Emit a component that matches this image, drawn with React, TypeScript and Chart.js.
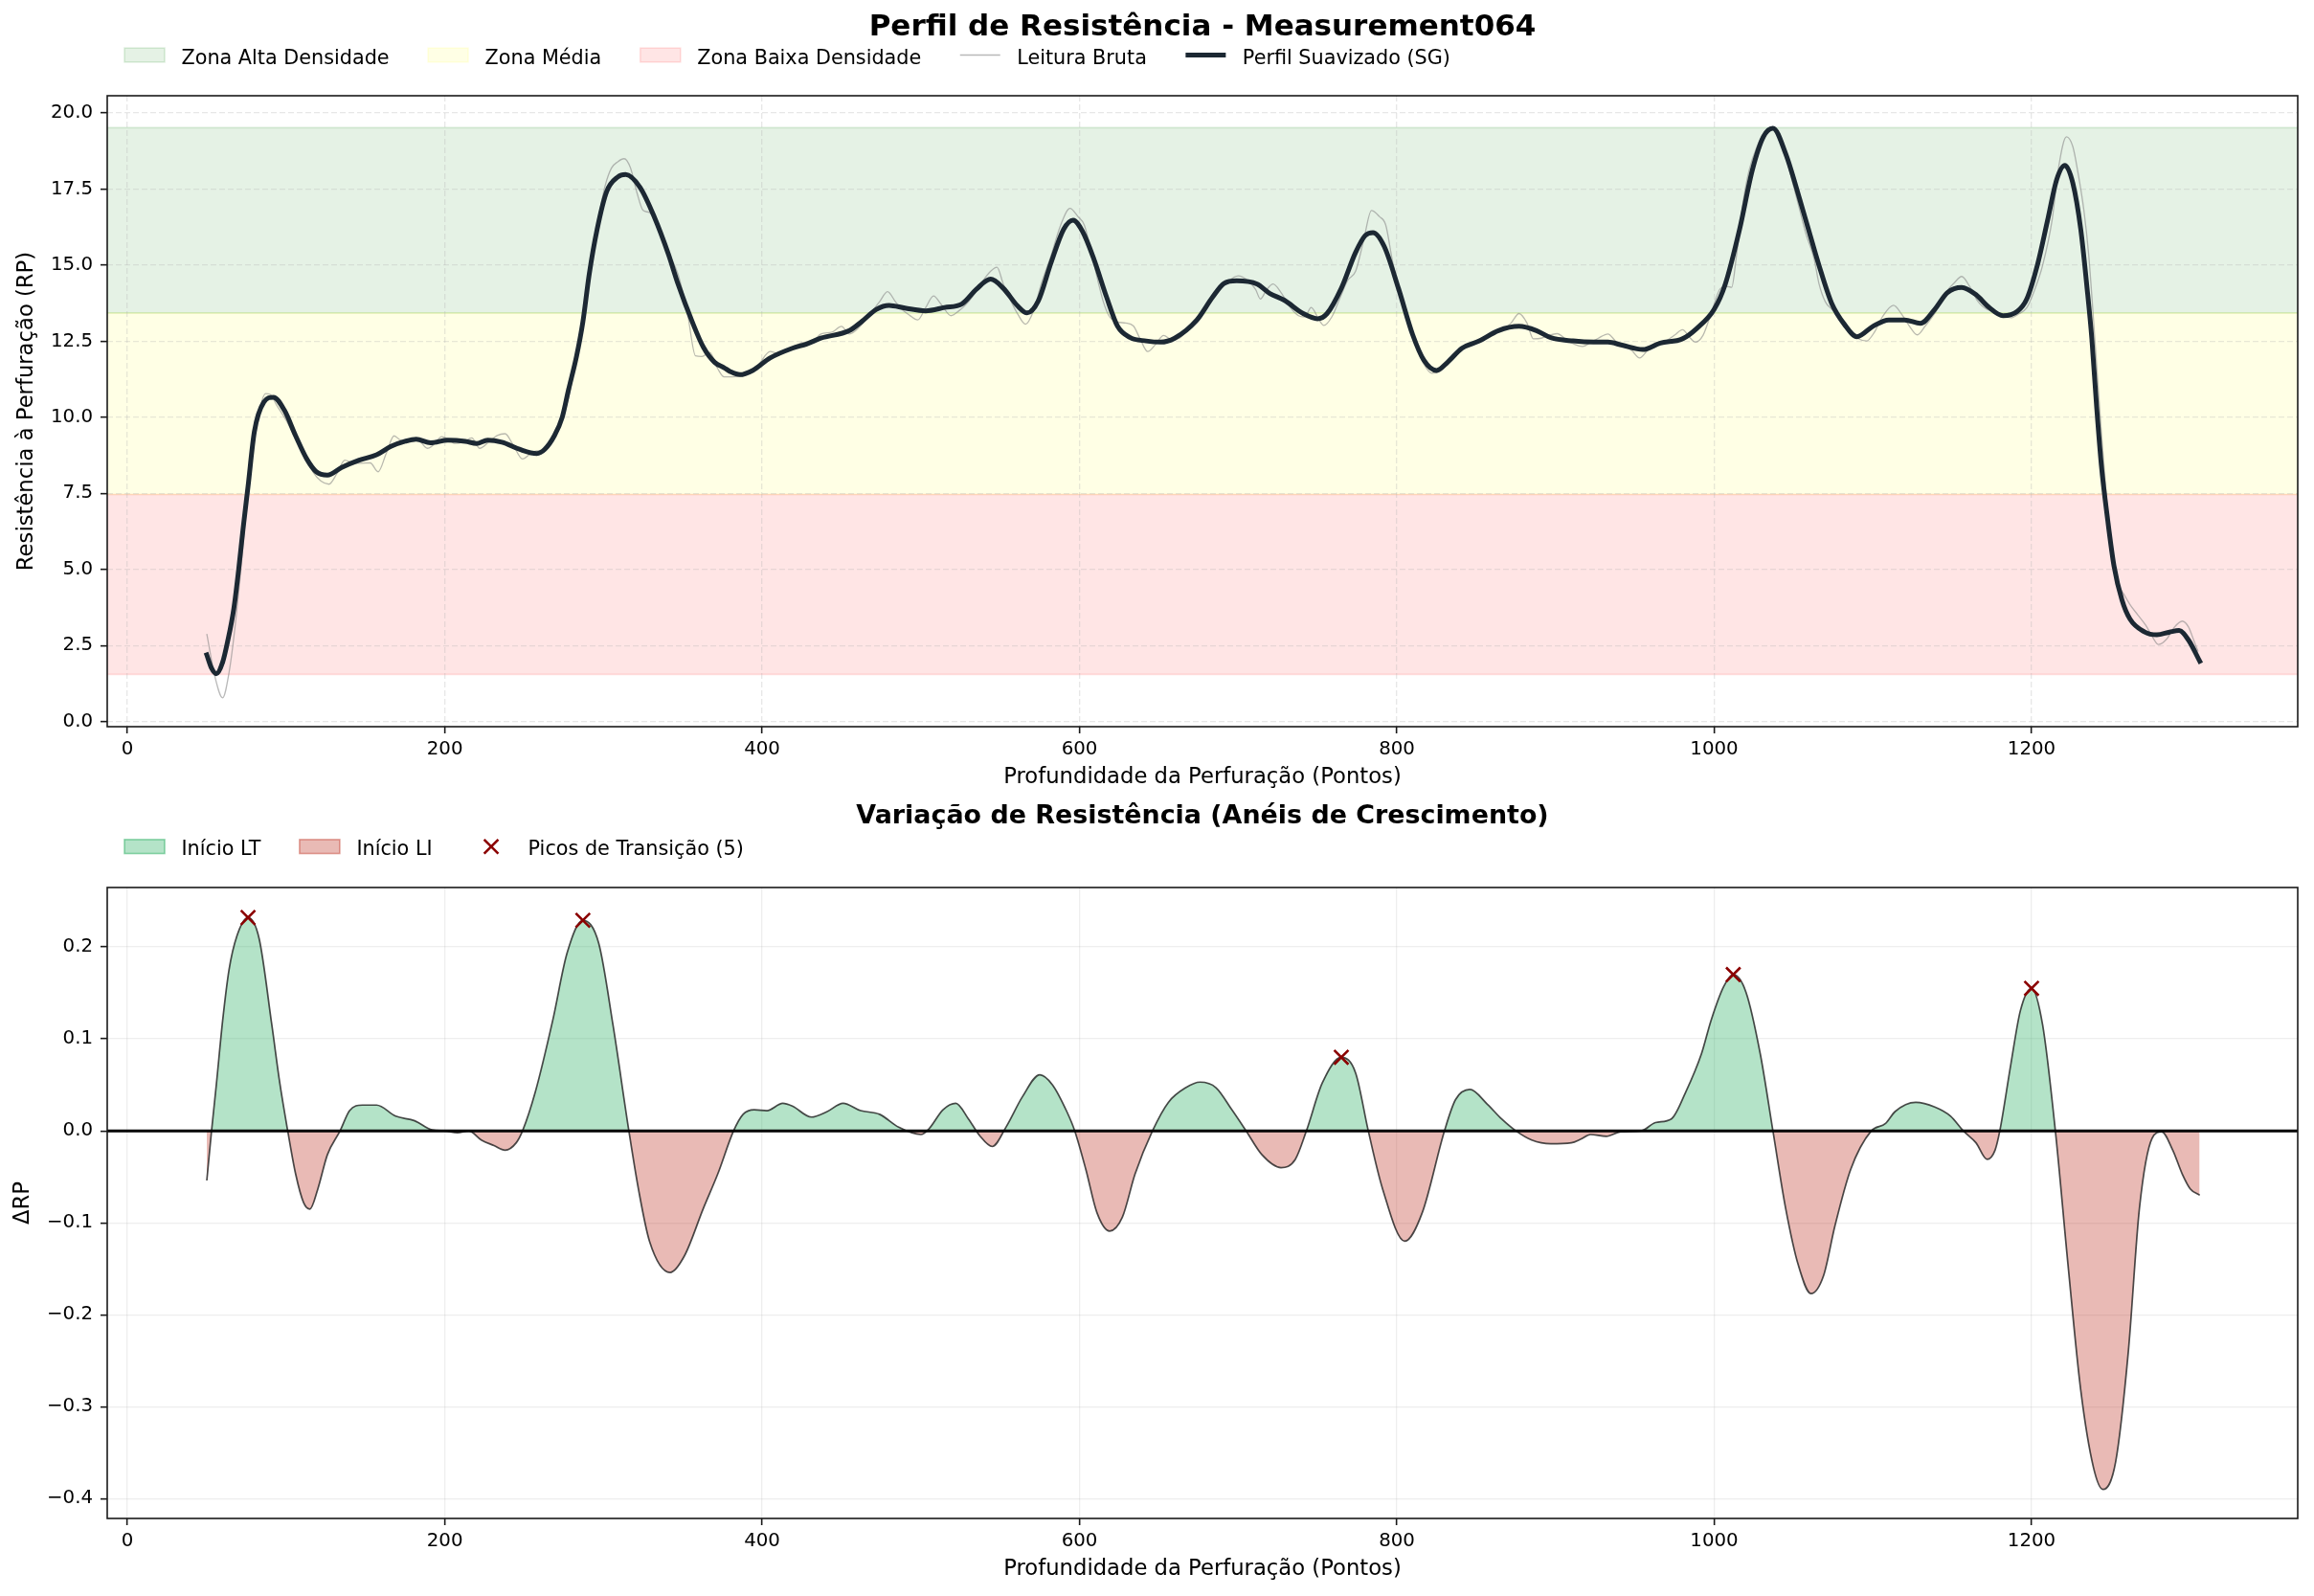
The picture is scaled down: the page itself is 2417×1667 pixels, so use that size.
import React, { useEffect, useRef } from "react";
import { Chart, registerables } from "chart.js";

Chart.register(...registerables);

const FONT = "'DejaVu Sans', 'Liberation Sans', sans-serif";

const TITLE_TOP = "Perfil de Resistência - Measurement064";
const TITLE_BOTTOM = "Variação de Resistência (Anéis de Crescimento)";
const X_LABEL = "Profundidade da Perfuração (Pontos)";
const Y_LABEL_TOP = "Resistência à Perfuração (RP)";
const Y_LABEL_BOTTOM = "ΔRP";

const X_MIN = -12.75;
const X_MAX = 1367.75;
const Y_TOP_MIN = -0.17;
const Y_TOP_MAX = 20.57;
const Y_BOT_MIN = -0.4216;
const Y_BOT_MAX = 0.2647;

const xTicks = [0, 200, 400, 600, 800, 1000, 1200];
const yTicksTop = [0, 2.5, 5, 7.5, 10, 12.5, 15, 17.5, 20];
const yTicksBottom = [-0.4, -0.3, -0.2, -0.1, 0, 0.1, 0.2];

// density zones (RP limits)
const zoneNames = ["Zona Alta Densidade", "Zona Média", "Zona Baixa Densidade"];
const zoneLow = [13.43, 7.46, 1.55];
const zoneHigh = [19.52, 13.43, 7.46];

// [depth, RP] raw reading
const rawProfile: [number, number][] = [
  [50, 2.88], [55, 1.5], [60, 0.78], [64, 1.6], [68, 3.2], [72, 5.3], [76, 7.6], [80, 9.3], [84, 10.4], [87, 10.78],
  [90, 10.75], [94, 10.4], [100, 9.9], [106, 9.3], [112, 8.7], [117, 8.2], [122, 7.9], [127, 7.8], [132, 8.15], [137, 8.59],
  [142, 8.5], [147, 8.49], [153, 8.5], [158, 8.21], [163, 8.8], [168, 9.39], [172, 9.25], [177, 9.18], [183, 9.25], [189, 8.98],
  [193, 9.1], [198, 9.36], [203, 9.25], [206, 9.14], [212, 9.2], [217, 9.32], [222, 8.98], [228, 9.2], [233, 9.4], [238, 9.46],
  [243, 9.1], [249, 8.63], [254, 8.8], [258, 8.9], [263, 8.9], [269, 9.35], [274, 10.0], [278, 10.64], [282, 11.7], [287, 13.1],
  [292, 15.0], [296, 16.3], [301, 17.6], [305, 18.19], [309, 18.4], [313, 18.5], [317, 18.2], [321, 17.4], [325, 16.8], [329, 16.73],
  [334, 16.3], [340, 15.5], [347, 14.7], [353, 13.4], [358, 12.02], [362, 12.0], [367, 12.13], [372, 11.6], [376, 11.33], [381, 11.33],
  [387, 11.35], [393, 11.55], [398, 11.75], [405, 12.16], [410, 12.1], [418, 12.25], [425, 12.45], [432, 12.5], [437, 12.74], [444, 12.8],
  [450, 12.99], [455, 12.74], [461, 12.95], [468, 13.4], [474, 13.8], [479, 14.13], [484, 13.8], [488, 13.55], [493, 13.35], [498, 13.2],
  [503, 13.6], [508, 13.99], [513, 13.7], [519, 13.34], [524, 13.5], [528, 13.68], [533, 14.0], [538, 14.4], [544, 14.8], [548, 14.93],
  [552, 14.38], [557, 13.8], [561, 13.4], [566, 13.06], [571, 13.5], [576, 14.4], [582, 15.3], [588, 16.3], [594, 16.87], [599, 16.6],
  [603, 16.32], [608, 15.3], [612, 14.4], [615, 13.8], [619, 13.3], [624, 13.13], [629, 13.1], [634, 13.0], [638, 12.6], [643, 12.16],
  [648, 12.4], [653, 12.69], [658, 12.55], [663, 12.6], [669, 12.92], [674, 13.1], [680, 13.6], [686, 14.1], [692, 14.4], [700, 14.65],
  [706, 14.5], [711, 14.2], [714, 13.89], [718, 14.2], [722, 14.38], [727, 14.1], [733, 13.6], [738, 13.34], [742, 13.3], [746, 13.61],
  [751, 13.2], [754, 13.02], [759, 13.3], [764, 13.9], [769, 14.5], [774, 14.8], [779, 15.8], [784, 16.8], [789, 16.6], [793, 16.32],
  [797, 15.2], [801, 14.2], [806, 13.3], [811, 12.5], [817, 11.75], [822, 11.45], [827, 11.5], [833, 11.85], [839, 12.1], [845, 12.4],
  [851, 12.51], [857, 12.7], [862, 12.8], [866, 12.85], [872, 13.1], [877, 13.41], [882, 13.1], [886, 12.58], [891, 12.6], [896, 12.7],
  [901, 12.75], [907, 12.55], [912, 12.4], [917, 12.33], [922, 12.45], [927, 12.6], [933, 12.74], [938, 12.5], [943, 12.35], [948, 12.2],
  [953, 11.95], [958, 12.2], [963, 12.45], [969, 12.5], [975, 12.7], [980, 12.88], [985, 12.6], [988, 12.47], [993, 12.7], [998, 13.4],
  [1004, 14.24], [1008, 14.3], [1011, 14.27], [1014, 15.3], [1018, 17.0], [1022, 18.12], [1027, 18.9], [1032, 19.4], [1037, 19.55], [1042, 19.2],
  [1047, 18.2], [1053, 17.0], [1058, 16.0], [1063, 15.2], [1066, 14.4], [1070, 13.8], [1075, 13.5], [1080, 13.1], [1085, 12.8], [1090, 12.6],
  [1096, 12.51], [1101, 12.8], [1106, 13.3], [1113, 13.68], [1118, 13.4], [1123, 13.0], [1128, 12.71], [1133, 13.0], [1140, 13.5], [1146, 14.1],
  [1151, 14.4], [1156, 14.63], [1161, 14.3], [1166, 13.82], [1172, 13.55], [1177, 13.5], [1182, 13.35], [1187, 13.27], [1192, 13.4], [1197, 13.6],
  [1202, 14.2], [1207, 15.0], [1213, 16.5], [1217, 18.2], [1222, 19.22], [1226, 18.9], [1229, 18.12], [1233, 16.8], [1236, 15.35], [1240, 12.5],
  [1244, 9.5], [1247, 7.5], [1250, 5.8], [1254, 4.6], [1258, 4.2], [1262, 3.85], [1267, 3.5], [1272, 3.16], [1276, 2.8], [1280, 2.53],
  [1285, 2.7], [1290, 3.1], [1295, 3.3], [1299, 3.1], [1302, 2.7], [1305, 2.3],
];

// [depth, RP] Savitzky-Golay smoothed profile
const smoothProfile: [number, number][] = [
  [50, 2.19], [53, 1.75], [56, 1.57], [60, 1.95], [63, 2.6], [67, 3.7], [70, 4.96], [73, 6.4], [76, 7.73], [80, 9.53],
  [86, 10.5], [92, 10.66], [99, 10.22], [106, 9.39], [113, 8.63], [119, 8.21], [126, 8.1], [135, 8.35], [146, 8.59], [157, 8.77],
  [166, 9.04], [175, 9.21], [182, 9.28], [191, 9.16], [202, 9.25], [213, 9.21], [220, 9.14], [227, 9.25], [236, 9.18], [247, 8.95],
  [258, 8.81], [263, 8.95], [269, 9.39], [274, 10.0], [278, 10.91], [283, 12.0], [287, 13.13], [291, 14.7], [296, 16.18], [302, 17.42],
  [309, 17.9], [314, 17.98], [323, 17.56], [332, 16.59], [341, 15.35], [347, 14.38], [356, 13.13], [363, 12.3], [370, 11.81], [376, 11.63],
  [380, 11.5], [386, 11.4], [394, 11.54], [405, 11.95], [419, 12.27], [428, 12.41], [437, 12.6], [455, 12.85], [463, 13.16], [472, 13.55],
  [480, 13.68], [490, 13.59], [503, 13.5], [515, 13.61], [526, 13.73], [535, 14.21], [544, 14.54], [552, 14.24], [561, 13.66], [567, 13.43],
  [574, 13.82], [582, 15.07], [590, 16.18], [596, 16.48], [602, 16.1], [609, 15.21], [617, 13.96], [624, 12.99], [632, 12.62], [642, 12.51],
  [651, 12.47], [660, 12.6], [674, 13.2], [684, 13.96], [691, 14.4], [699, 14.49], [712, 14.38], [720, 14.07], [729, 13.85], [741, 13.41],
  [750, 13.24], [756, 13.41], [765, 14.24], [774, 15.42], [780, 15.97], [785, 16.07], [792, 15.62], [801, 14.24], [810, 12.71], [817, 11.88],
  [825, 11.54], [832, 11.81], [841, 12.27], [852, 12.51], [864, 12.85], [877, 12.99], [888, 12.85], [897, 12.62], [911, 12.51], [924, 12.47],
  [933, 12.47], [942, 12.37], [955, 12.23], [966, 12.44], [980, 12.58], [989, 12.92], [1000, 13.55], [1007, 14.38], [1016, 16.18], [1024, 18.12],
  [1031, 19.22], [1037, 19.5], [1045, 18.67], [1054, 17.15], [1059, 16.25], [1066, 15.0], [1074, 13.75], [1082, 13.06], [1090, 12.65], [1100, 12.99],
  [1110, 13.2], [1120, 13.2], [1130, 13.09], [1139, 13.55], [1147, 14.1], [1156, 14.27], [1165, 14.03], [1173, 13.62], [1182, 13.34], [1191, 13.48],
  [1197, 13.89], [1204, 15.07], [1210, 16.45], [1216, 17.84], [1221, 18.28], [1226, 17.7], [1231, 16.18], [1235, 14.24], [1238, 12.58], [1241, 10.36],
  [1244, 8.42], [1248, 6.62], [1252, 5.1], [1257, 3.99], [1262, 3.37], [1271, 2.95], [1279, 2.85], [1287, 2.94], [1293, 2.99], [1299, 2.67],
  [1306, 1.98],
];

// [depth, ΔRP]
const deltaProfile: [number, number][] = [
  [50, -0.054], [53, 0], [56, 0.05], [60, 0.12], [64, 0.175], [69, 0.212], [76, 0.232], [83, 0.209], [91, 0.115], [96, 0.052], [101, 0],
  [106, -0.047], [111, -0.078], [115, -0.085], [120, -0.063], [126, -0.026], [134, 0], [140, 0.022], [148, 0.028], [157, 0.028], [169, 0.016],
  [181, 0.011], [192, 0.001], [200, 0], [208, -0.002], [215, 0], [223, -0.01], [231, -0.016], [238, -0.021], [245, -0.013], [249, 0],
  [257, 0.042], [268, 0.12], [277, 0.193], [287, 0.229], [297, 0.204], [306, 0.115], [316, 0], [322, -0.063], [329, -0.12], [342, -0.154],
  [351, -0.136], [363, -0.084], [372, -0.047], [382, 0], [388, 0.018], [395, 0.023], [403, 0.022], [413, 0.03], [419, 0.027], [431, 0.015],
  [441, 0.021], [451, 0.03], [462, 0.022], [474, 0.018], [486, 0.004], [500, -0.004], [505, 0.002], [514, 0.023], [522, 0.03], [530, 0.013],
  [537, -0.005], [545, -0.017], [554, 0.005], [564, 0.037], [575, 0.061], [583, 0.05], [592, 0.021], [597, 0], [604, -0.042], [611, -0.089],
  [619, -0.109], [627, -0.094], [635, -0.047], [646, 0], [656, 0.031], [667, 0.047], [676, 0.053], [686, 0.047], [696, 0.023], [705, 0],
  [715, -0.026], [727, -0.04], [736, -0.031], [743, 0], [753, 0.052], [765, 0.08], [774, 0.063], [782, 0], [791, -0.063], [805, -0.12],
  [816, -0.089], [830, 0], [837, 0.034], [846, 0.045], [857, 0.029], [866, 0.013], [875, 0], [885, -0.01], [897, -0.014], [910, -0.013],
  [916, -0.009], [922, -0.004], [932, -0.006], [941, -0.001], [954, 0], [963, 0.009], [973, 0.013], [982, 0.042], [992, 0.084], [998, 0.12],
  [1006, 0.157], [1012, 0.17], [1020, 0.151], [1029, 0.084], [1037, 0], [1045, -0.084], [1053, -0.146], [1061, -0.177], [1069, -0.157], [1076, -0.104],
  [1086, -0.042], [1099, 0], [1108, 0.008], [1114, 0.021], [1127, 0.031], [1139, 0.026], [1149, 0.016], [1157, 0], [1165, -0.013], [1172, -0.031],
  [1177, -0.021], [1180, 0], [1187, 0.073], [1193, 0.131], [1200, 0.155], [1207, 0.115], [1215, 0], [1223, -0.146], [1231, -0.282], [1239, -0.366],
  [1245, -0.39], [1253, -0.36], [1261, -0.24], [1268, -0.084], [1276, -0.008], [1282, -0.001], [1289, -0.021], [1295, -0.047], [1300, -0.063], [1306, -0.07],
];

const peakDepths = [76, 287, 765, 1012, 1200];
const peakDeltas = [0.232, 0.229, 0.08, 0.17, 0.155];

// ---- styles ----
const zoneFill = ["rgba(0,128,0,0.1)", "rgba(255,255,0,0.1)", "rgba(255,0,0,0.1)"];
const zoneEdge = ["rgba(0,128,0,0.14)", "rgba(255,255,0,0.1)", "rgba(255,0,0,0.12)"];
const SMOOTH_COLOR = "#1c2833";
const RAW_COLOR = "rgba(128,128,128,0.55)";
const LT_FILL = "rgba(39,174,96,0.35)";
const LI_FILL = "rgba(192,57,43,0.35)";
const LT_EDGE = "rgba(39,174,96,0.5)";
const LI_EDGE = "rgba(192,57,43,0.45)";
const PEAK_COLOR = "#8b0000";
const AXIS_COLOR = "#1a1a1a";

const toXY = (arr: [number, number][]) => arr.map(([x, y]) => ({ x, y }));

const framePlugin = {
  id: "frame",
  afterDraw(chart: any) {
    const { ctx, chartArea: a } = chart;
    ctx.save();
    ctx.strokeStyle = AXIS_COLOR;
    ctx.lineWidth = 1.6;
    ctx.strokeRect(a.left, a.top, a.right - a.left, a.bottom - a.top);
    ctx.restore();
  },
};

const zonesPlugin = {
  id: "zones",
  beforeDraw(chart: any) {
    const { ctx, chartArea: a, scales } = chart;
    const y = scales.y;
    ctx.save();
    zoneLow.forEach((lo, i) => {
      const yt = y.getPixelForValue(zoneHigh[i]);
      const yb = y.getPixelForValue(lo);
      ctx.fillStyle = zoneFill[i];
      ctx.fillRect(a.left, yt, a.right - a.left, yb - yt);
      ctx.strokeStyle = zoneEdge[i];
      ctx.lineWidth = 1.6;
      ctx.beginPath();
      ctx.moveTo(a.left, yt);
      ctx.lineTo(a.right, yt);
      ctx.moveTo(a.left, yb);
      ctx.lineTo(a.right, yb);
      ctx.stroke();
    });
    ctx.restore();
  },
};

type LegendItem = {
  label: string;
  kind: "patch" | "line" | "cross";
  fill?: string;
  stroke: string;
  width: number;
};

function makeLegend(id: string, centerY: number, items: LegendItem[]) {
  return {
    id,
    afterDraw(chart: any) {
      const ctx = chart.ctx;
      ctx.save();
      ctx.font = `20.75px ${FONT}`;
      const hl = 42;
      const hh = 14.6;
      let x = 130;
      for (const it of items) {
        if (it.kind === "patch") {
          ctx.fillStyle = it.fill;
          ctx.fillRect(x, centerY - hh / 2, hl, hh);
          ctx.strokeStyle = it.stroke;
          ctx.lineWidth = it.width;
          ctx.strokeRect(x, centerY - hh / 2, hl, hh);
        } else if (it.kind === "line") {
          ctx.strokeStyle = it.stroke;
          ctx.lineWidth = it.width;
          ctx.lineCap = "square";
          ctx.beginPath();
          ctx.moveTo(x + it.width / 2, centerY);
          ctx.lineTo(x + hl - it.width / 2, centerY);
          ctx.stroke();
        } else {
          const cx = x + hl / 2;
          const h = 7.4;
          ctx.strokeStyle = it.stroke;
          ctx.lineWidth = it.width;
          ctx.lineCap = "butt";
          ctx.beginPath();
          ctx.moveTo(cx - h, centerY - h);
          ctx.lineTo(cx + h, centerY + h);
          ctx.moveTo(cx - h, centerY + h);
          ctx.lineTo(cx + h, centerY - h);
          ctx.stroke();
        }
        ctx.fillStyle = "#000";
        ctx.textAlign = "left";
        ctx.textBaseline = "alphabetic";
        const tx = x + hl + 17.5;
        ctx.fillText(it.label, tx, centerY + 9.2);
        x = tx + ctx.measureText(it.label).width + 40.5;
      }
      ctx.restore();
    },
  };
}

const tickFont = { family: FONT, size: 19.8 };
const labelFont = { family: FONT, size: 22.7 };

function xScale(gridColor: string, dash: number[]) {
  return {
    type: "linear",
    min: X_MIN,
    max: X_MAX,
    bounds: "data",
    afterBuildTicks: (s: any) => {
      s.ticks = xTicks.map((v) => ({ value: v }));
    },
    afterFit: (s: any) => {
      s.height = 81;
    },
    ticks: {
      autoSkip: false,
      maxRotation: 0,
      minRotation: 0,
      padding: 4.5,
      color: "#000",
      font: tickFont,
      callback: (v: any) => String(v),
    },
    grid: {
      color: gridColor,
      lineWidth: 1.3,
      tickColor: AXIS_COLOR,
      tickWidth: 1.6,
      tickLength: 7,
      tickBorderDash: [],
    },
    border: { display: false, dash },
    title: {
      display: true,
      text: X_LABEL,
      color: "#000",
      font: labelFont,
      padding: { top: 0, bottom: 14.4 },
    },
  };
}

export default function App() {
  const topRef = useRef<HTMLCanvasElement | null>(null);
  const botRef = useRef<HTMLCanvasElement | null>(null);

  useEffect(() => {
    if (!topRef.current || !botRef.current) return;

    const topLegend = makeLegend("topLegend", 57.5, [
      { label: zoneNames[0], kind: "patch", fill: zoneFill[0], stroke: zoneEdge[0], width: 1.6 },
      { label: zoneNames[1], kind: "patch", fill: zoneFill[1], stroke: zoneEdge[1], width: 1.6 },
      { label: zoneNames[2], kind: "patch", fill: zoneFill[2], stroke: zoneEdge[2], width: 1.6 },
      { label: "Leitura Bruta", kind: "line", stroke: RAW_COLOR, width: 1.5 },
      { label: "Perfil Suavizado (SG)", kind: "line", stroke: SMOOTH_COLOR, width: 5 },
    ]);

    const peakLabel = `Picos de Transição (${peakDepths.length})`;
    const botLegend = makeLegend("botLegend", 69.2, [
      { label: "Início LT", kind: "patch", fill: LT_FILL, stroke: LT_EDGE, width: 1.6 },
      { label: "Início LI", kind: "patch", fill: LI_FILL, stroke: LI_EDGE, width: 1.6 },
      { label: peakLabel, kind: "cross", stroke: PEAK_COLOR, width: 2.6 },
    ]);

    const topChart = new Chart(topRef.current, {
      type: "line",
      data: {
        datasets: [
          {
            label: "Perfil Suavizado (SG)",
            data: toXY(smoothProfile),
            borderColor: SMOOTH_COLOR,
            borderWidth: 5,
            pointRadius: 0,
            cubicInterpolationMode: "monotone",
            borderJoinStyle: "round",
            borderCapStyle: "square",
            fill: false,
            order: 0,
          },
          {
            label: "Leitura Bruta",
            data: toXY(rawProfile),
            borderColor: RAW_COLOR,
            borderWidth: 1.3,
            pointRadius: 0,
            cubicInterpolationMode: "monotone",
            fill: false,
            order: 1,
          },
        ],
      },
      options: {
        animation: false,
        responsive: false,
        devicePixelRatio: 1,
        layout: { padding: { left: 0, right: 17, top: 0, bottom: 0 } },
        plugins: {
          legend: { display: false },
          tooltip: { enabled: false },
          title: {
            display: true,
            text: TITLE_TOP,
            fullSize: false,
            color: "#000",
            font: { family: FONT, size: 31, weight: "bold" },
            padding: { top: 10.5, bottom: 52.3 },
          },
        },
        scales: {
          x: xScale("rgba(176,176,176,0.3)", [6, 3]),
          y: {
            type: "linear",
            min: Y_TOP_MIN,
            max: Y_TOP_MAX,
            bounds: "data",
            afterBuildTicks: (s: any) => {
              s.ticks = yTicksTop.map((v) => ({ value: v }));
            },
            afterFit: (s: any) => {
              s.width = 112;
            },
            ticks: {
              autoSkip: false,
              padding: 8,
              color: "#000",
              font: tickFont,
              callback: (v: any) => Number(v).toFixed(1),
            },
            grid: {
              color: "rgba(176,176,176,0.3)",
              lineWidth: 1.3,
              tickColor: AXIS_COLOR,
              tickWidth: 1.6,
              tickLength: 7,
              tickBorderDash: [],
            },
            border: { display: false, dash: [6, 3] },
            title: {
              display: true,
              text: Y_LABEL_TOP,
              color: "#000",
              font: labelFont,
              padding: { top: 14.4, bottom: 0 },
            },
          },
        },
      } as any,
      plugins: [zonesPlugin, framePlugin, topLegend],
    } as any);

    const botChart = new Chart(botRef.current, {
      type: "line",
      data: {
        datasets: [
          {
            label: peakLabel,
            data: peakDepths.map((x, i) => ({ x, y: peakDeltas[i] })),
            showLine: false,
            pointStyle: "crossRot",
            pointRadius: 10.5,
            pointBorderColor: PEAK_COLOR,
            pointBackgroundColor: PEAK_COLOR,
            pointBorderWidth: 2.6,
            order: 0,
          },
          {
            label: "zero",
            data: [
              { x: X_MIN, y: 0 },
              { x: X_MAX, y: 0 },
            ],
            borderColor: "#000",
            borderWidth: 3,
            pointRadius: 0,
            fill: false,
            order: 1,
          },
          {
            label: Y_LABEL_BOTTOM,
            data: toXY(deltaProfile),
            borderColor: "rgba(35,35,35,0.82)",
            borderWidth: 1.7,
            pointRadius: 0,
            cubicInterpolationMode: "monotone",
            fill: { target: { value: 0 }, above: LT_FILL, below: LI_FILL },
            order: 2,
          },
        ],
      },
      options: {
        animation: false,
        responsive: false,
        devicePixelRatio: 1,
        layout: { padding: { left: 0, right: 17, top: 0, bottom: 0 } },
        plugins: {
          legend: { display: false },
          tooltip: { enabled: false },
          title: {
            display: true,
            text: TITLE_BOTTOM,
            fullSize: false,
            color: "#000",
            font: { family: FONT, size: 26.9, weight: "bold" },
            padding: { top: 21.5, bottom: 58.2 },
          },
        },
        scales: {
          x: xScale("rgba(176,176,176,0.22)", []),
          y: {
            type: "linear",
            min: Y_BOT_MIN,
            max: Y_BOT_MAX,
            bounds: "data",
            afterBuildTicks: (s: any) => {
              s.ticks = yTicksBottom.map((v) => ({ value: v }));
            },
            afterFit: (s: any) => {
              s.width = 112;
            },
            ticks: {
              autoSkip: false,
              padding: 8,
              color: "#000",
              font: tickFont,
              callback: (v: any) => {
                const n = Number(v);
                const s = Math.abs(n).toFixed(1);
                return n < -1e-9 ? "\u2212" + s : s;
              },
            },
            grid: {
              color: "rgba(176,176,176,0.22)",
              lineWidth: 1.3,
              tickColor: AXIS_COLOR,
              tickWidth: 1.6,
              tickLength: 7,
              tickBorderDash: [],
            },
            border: { display: false },
            title: {
              display: true,
              text: Y_LABEL_BOTTOM,
              color: "#000",
              font: labelFont,
              padding: { top: 10.4, bottom: 0 },
            },
          },
        },
      } as any,
      plugins: [framePlugin, botLegend],
    } as any);

    return () => {
      topChart.destroy();
      botChart.destroy();
    };
  }, []);

  return (
    <div
      style={{
        position: "absolute",
        left: 0,
        top: 0,
        width: 2417,
        height: 1667,
        background: "#fff",
        overflow: "hidden",
      }}
    >
      <canvas
        ref={topRef}
        width={2417}
        height={840}
        style={{ position: "absolute", left: 0, top: 0, width: 2417, height: 840 }}
      />
      <canvas
        ref={botRef}
        width={2417}
        height={852}
        style={{ position: "absolute", left: 0, top: 815, width: 2417, height: 852 }}
      />
    </div>
  );
}
